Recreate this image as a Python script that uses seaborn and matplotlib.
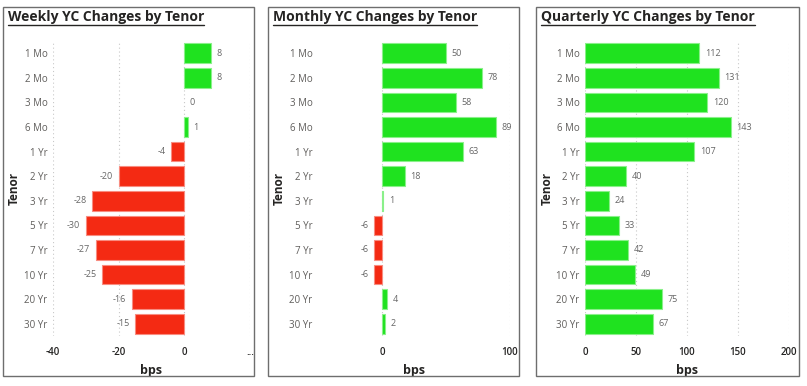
import matplotlib
matplotlib.use('Agg')
import matplotlib.pyplot as plt
import seaborn as sns
import pandas as pd
from matplotlib.patches import Rectangle
from matplotlib.lines import Line2D

tenors = ['1 Mo', '2 Mo', '3 Mo', '6 Mo', '1 Yr', '2 Yr', '3 Yr',
          '5 Yr', '7 Yr', '10 Yr', '20 Yr', '30 Yr']
weekly = [8, 8, 0, 1, -4, -20, -28, -30, -27, -25, -16, -15]
monthly = [50, 78, 58, 89, 63, 18, 1, -6, -6, -6, 4, 2]
quarterly = [112, 131, 120, 143, 107, 40, 24, 33, 42, 49, 75, 67]

titles = ['Weekly YC Changes by Tenor', 'Monthly YC Changes by Tenor',
          'Quarterly YC Changes by Tenor']
xticks = [[-40, -20, 0, 20], [0, 100], [0, 50, 100, 150, 200]]
xticklabels = [['-40', '-20', '0', '...'], ['0', '100'],
               ['0', '50', '100', '150', '200']]

GREEN = '#1FE21F'
RED = '#F42A13'
EDGE = {'up': '#8AF08A', 'down': '#F88C80'}

sns.set_style('white')
plt.rcParams['font.family'] = ['Open Sans', 'DejaVu Sans']

W, H = 807, 386
fig = plt.figure(figsize=(W / 100, H / 100), dpi=100, facecolor='white')

# pixel layout: (box left, box right, axes left, axes right, xlim)
panels = [
    (3, 254, 53, 250, (-40, 20)),
    (268, 519, 318, 510, (-50, 100)),
    (536, 799, 585, 789, (0, 200)),
]
ax_top, ax_bot = 41, 336
box_top, box_bot = 7, 376

title_texts = []
for i, (vals, (bl, br, al, ar, xl)) in enumerate(zip([weekly, monthly, quarterly], panels)):
    # panel border
    fig.patches.append(Rectangle((bl / W, 1 - box_bot / H), (br - bl) / W,
                                 (box_bot - box_top) / H, transform=fig.transFigure,
                                 fill=False, edgecolor='#6E6E6E', linewidth=1))
    ax = fig.add_axes([al / W, 1 - ax_bot / H, (ar - al) / W, (ax_bot - ax_top) / H])
    df = pd.DataFrame({'tenor': tenors, 'bps': vals})
    df['sign'] = ['up' if v >= 0 else 'down' for v in vals]
    sns.barplot(data=df, x='bps', y='tenor', hue='sign', order=tenors,
                palette={'up': GREEN, 'down': RED}, hue_order=['up', 'down'],
                dodge=False, legend=False, width=0.8, saturation=1, ax=ax)
    for cont, key in zip(ax.containers, ['up', 'down']):
        for p in cont:
            p.set_edgecolor(EDGE[key])
            p.set_linewidth(0.8 if p.get_width() != 0 else 0)
        ax.bar_label(cont, fmt='%d', padding=4, fontsize=6.5, color='#666666')
    ax.set_xlim(*xl)
    ax.set_xticks(xticks[i])
    ax.set_xticklabels(xticklabels[i], fontsize=7, color='#252423', fontweight='semibold')
    for lab in ax.get_yticklabels():
        lab.set_fontsize(7)
        lab.set_color('#605E5C')
    ax.tick_params(axis='both', length=0)
    ax.tick_params(axis='y', pad=4)
    ax.tick_params(axis='x', pad=8)
    ax.set_ylabel('')
    ax.set_xlabel('bps', fontsize=9, fontweight='bold', color='#252423', labelpad=4)
    ax.grid(axis='x', linestyle=(0, (1, 2.5)), color='#C8C8C8', linewidth=0.8)
    ax.set_axisbelow(True)
    for s in ax.spines.values():
        s.set_visible(False)
    fig.text((bl + 11) / W, 1 - 188 / H, 'Tenor', rotation=90, ha='center', va='center',
             fontsize=8.5, fontweight='bold', color='#252423')
    t = fig.text((bl + 5) / W, 1 - 17.5 / H, titles[i], ha='left', va='center',
                 fontsize=10, fontweight='bold', color='#252423')
    title_texts.append(t)

# underline titles
fig.canvas.draw()
r = fig.canvas.get_renderer()
for t in title_texts:
    bb = t.get_window_extent(renderer=r)
    y = bb.y0 - 0.5
    fig.lines.append(Line2D([bb.x0 / W, bb.x1 / W], [y / H, y / H],
                            transform=fig.transFigure, color='#252423', linewidth=1))

fig.savefig('out.png', dpi=100, facecolor='white')
